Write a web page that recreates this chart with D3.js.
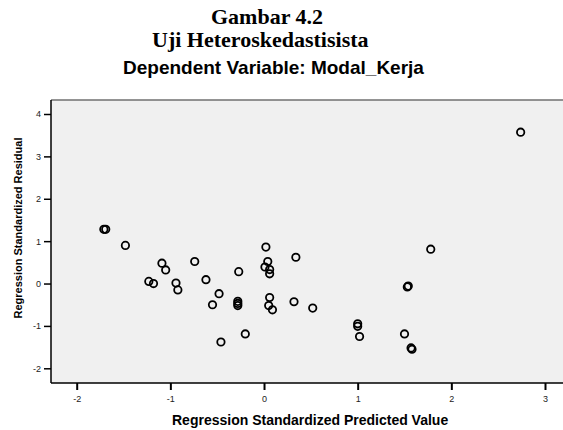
<!DOCTYPE html>
<html>
<head>
<meta charset="utf-8">
<script src="https://cdn.jsdelivr.net/npm/d3@7"></script>
<style>
  body { margin: 0; background: #fff; }
  svg { display: block; }
</style>
</head>
<body>
<svg id="chart"></svg>
<script>
// predicted values (x) and residuals (y)
const predicted = [-1.71, -1.69, -1.48, -1.09, -1.05, -1.23, -1.18, -0.94, -0.92, -0.74,
  -0.62, 0.02, 0.34, 0.04, 0.01, 0.06, 0.06, -0.27, -0.48, -0.55,
  -0.28, -0.28, -0.28, 0.06, 0.05, 0.09, 0.32, 0.52, -0.20, -0.46,
  1.00, 1.00, 1.02, 1.78, 1.53, 1.54, 1.50, 1.58, 1.57, 2.74];
const residual = [1.28, 1.28, 0.90, 0.48, 0.32, 0.05, 0.00, 0.01, -0.15, 0.52,
  0.09, 0.86, 0.62, 0.52, 0.39, 0.33, 0.23, 0.28, -0.24, -0.50,
  -0.42, -0.47, -0.52, -0.33, -0.52, -0.62, -0.43, -0.58, -1.19, -1.38,
  -0.95, -1.01, -1.25, 0.81, -0.08, -0.06, -1.19, -1.55, -1.52, 3.57];
const xTicks = [-2, -1, 0, 1, 2, 3];
const yTicks = [-2, -1, 0, 1, 2, 3, 4];

const width = 563, height = 430;
const svg = d3.select('#chart').attr('width', width).attr('height', height);

const frame = { left: 51, right: 563, top: 100, bottom: 383 };

const x = d3.scaleLinear().domain([-2, 3]).range([76.7, 545]);
const y = d3.scaleLinear().domain([-2, 4]).range([368.3, 114]);

// plain hyphen for negatives, like the original
const fmt = (d) => String(d);

// TITLES
svg.append('text')
  .attr('x', 267).attr('y', 24)
  .attr('text-anchor', 'middle')
  .attr('font-family', '"Liberation Serif", "Times New Roman", serif')
  .attr('font-weight', 'bold').attr('font-size', 22)
  .text('Gambar 4.2');

svg.append('text')
  .attr('x', 152).attr('y', 47)
  .attr('font-family', '"Liberation Serif", "Times New Roman", serif')
  .attr('font-weight', 'bold').attr('font-size', 22)
  .text('Uji Heteroskedastisista');

svg.append('text')
  .attr('x', 123).attr('y', 74)
  .attr('font-family', '"Liberation Sans", Arial, sans-serif')
  .attr('font-weight', 'bold').attr('font-size', 19)
  .text('Dependent Variable: Modal_Kerja');

// PLOT AREA
svg.append('rect')
  .attr('x', frame.left).attr('y', frame.top)
  .attr('width', frame.right - frame.left).attr('height', frame.bottom - frame.top)
  .attr('fill', '#f0f0f0');

svg.append('line')
  .attr('x1', frame.left).attr('x2', frame.right)
  .attr('y1', frame.top).attr('y2', frame.top)
  .attr('stroke', '#707070').attr('stroke-width', 1.5);

// AXES
const xAxis = svg.append('g')
  .attr('transform', `translate(0,${frame.bottom})`)
  .call(d3.axisBottom(x).tickValues(xTicks).tickSize(7).tickPadding(6).tickFormat(fmt));
xAxis.select('.domain').remove();
xAxis.selectAll('.tick line').attr('stroke', '#000').attr('stroke-width', 2);
xAxis.selectAll('.tick text')
  .attr('font-family', '"Liberation Sans", Arial, sans-serif')
  .attr('font-size', 9).attr('fill', '#222');

const yAxis = svg.append('g')
  .attr('transform', `translate(${frame.left},0)`)
  .call(d3.axisLeft(y).tickValues(yTicks).tickSize(7).tickPadding(3).tickFormat(fmt));
yAxis.select('.domain').remove();
yAxis.selectAll('.tick line').attr('stroke', '#000').attr('stroke-width', 1.5);
yAxis.selectAll('.tick text')
  .attr('font-family', '"Liberation Sans", Arial, sans-serif')
  .attr('font-size', 9).attr('fill', '#222');

svg.append('line')
  .attr('x1', frame.left).attr('x2', frame.right)
  .attr('y1', frame.bottom).attr('y2', frame.bottom)
  .attr('stroke', '#000').attr('stroke-width', 1.5);
svg.append('line')
  .attr('x1', frame.left).attr('x2', frame.left)
  .attr('y1', frame.top).attr('y2', frame.bottom)
  .attr('stroke', '#000').attr('stroke-width', 1.5);

// AXIS TITLES
svg.append('text')
  .attr('x', 172).attr('y', 425)
  .attr('font-family', '"Liberation Sans", Arial, sans-serif')
  .attr('font-weight', 'bold').attr('font-size', 14)
  .text('Regression Standardized Predicted Value');

svg.append('text')
  .attr('transform', 'translate(22,228) rotate(-90)')
  .attr('text-anchor', 'middle')
  .attr('font-family', '"Liberation Sans", Arial, sans-serif')
  .attr('font-weight', 'bold').attr('font-size', 11)
  .text('Regression Standardized Residual');

// POINTS
const points = predicted.map((p, i) => ({ p, r: residual[i] }));
svg.append('g')
  .selectAll('circle')
  .data(points)
  .enter()
  .append('circle')
  .attr('cx', (d) => x(d.p))
  .attr('cy', (d) => y(d.r))
  .attr('r', 3.7)
  .attr('fill', 'none')
  .attr('stroke', '#000')
  .attr('stroke-width', 1.8);
</script>
</body>
</html>
